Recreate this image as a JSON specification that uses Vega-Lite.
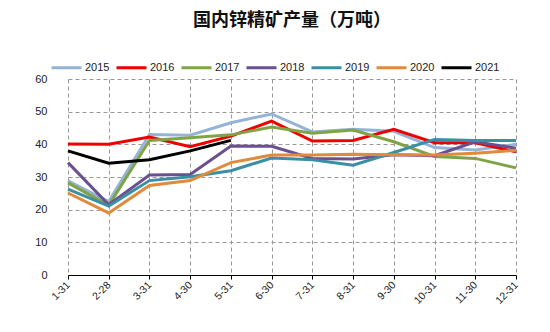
{
  "$schema": "https://vega.github.io/schema/vega-lite/v6.json",
  "autosize": "none",
  "width": 448,
  "height": 196,
  "padding": {"left": 68, "top": 79, "right": 34, "bottom": 57},
  "background": "white",
  "title": {
    "text": "国内锌精矿产量（万吨）",
    "font": "Noto Sans CJK SC",
    "fontSize": 18,
    "fontWeight": "bold",
    "color": "#111111",
    "anchor": "middle",
    "offset": 21
  },
  "config": {
    "view": {"stroke": null},
    "font": "Liberation Sans"
  },
  "datasets": {
    "d": [
      {"m":"1-31","y":"2015","v":28.8},{"m":"2-28","y":"2015","v":22.5},{"m":"3-31","y":"2015","v":43},{"m":"4-30","y":"2015","v":42.8},{"m":"5-31","y":"2015","v":46.6},{"m":"6-30","y":"2015","v":49.3},{"m":"7-31","y":"2015","v":43.8},{"m":"8-31","y":"2015","v":44.6},{"m":"9-30","y":"2015","v":44},{"m":"10-31","y":"2015","v":39},{"m":"11-30","y":"2015","v":38.3},{"m":"12-31","y":"2015","v":40},
      {"m":"1-31","y":"2016","v":40.1},{"m":"2-28","y":"2016","v":40},{"m":"3-31","y":"2016","v":42.2},{"m":"4-30","y":"2016","v":39.3},{"m":"5-31","y":"2016","v":42.5},{"m":"6-30","y":"2016","v":47.1},{"m":"7-31","y":"2016","v":41},{"m":"8-31","y":"2016","v":41.2},{"m":"9-30","y":"2016","v":44.6},{"m":"10-31","y":"2016","v":40.5},{"m":"11-30","y":"2016","v":40.5},{"m":"12-31","y":"2016","v":37.7},
      {"m":"1-31","y":"2017","v":28.2},{"m":"2-28","y":"2017","v":21.3},{"m":"3-31","y":"2017","v":41.2},{"m":"4-30","y":"2017","v":42},{"m":"5-31","y":"2017","v":42.9},{"m":"6-30","y":"2017","v":45.3},{"m":"7-31","y":"2017","v":43.4},{"m":"8-31","y":"2017","v":44.4},{"m":"9-30","y":"2017","v":40.8},{"m":"10-31","y":"2017","v":36.3},{"m":"11-30","y":"2017","v":35.7},{"m":"12-31","y":"2017","v":32.8},
      {"m":"1-31","y":"2018","v":34.4},{"m":"2-28","y":"2018","v":21.5},{"m":"3-31","y":"2018","v":30.6},{"m":"4-30","y":"2018","v":30.8},{"m":"5-31","y":"2018","v":39.5},{"m":"6-30","y":"2018","v":39.4},{"m":"7-31","y":"2018","v":35.7},{"m":"8-31","y":"2018","v":35.5},{"m":"9-30","y":"2018","v":36.8},{"m":"10-31","y":"2018","v":36.5},{"m":"11-30","y":"2018","v":40.8},{"m":"12-31","y":"2018","v":38.8},
      {"m":"1-31","y":"2019","v":26.3},{"m":"2-28","y":"2019","v":21.1},{"m":"3-31","y":"2019","v":28.9},{"m":"4-30","y":"2019","v":30.1},{"m":"5-31","y":"2019","v":31.9},{"m":"6-30","y":"2019","v":35.8},{"m":"7-31","y":"2019","v":35.3},{"m":"8-31","y":"2019","v":33.6},{"m":"9-30","y":"2019","v":37.5},{"m":"10-31","y":"2019","v":41.5},{"m":"11-30","y":"2019","v":41.2},{"m":"12-31","y":"2019","v":41.2},
      {"m":"1-31","y":"2020","v":25.1},{"m":"2-28","y":"2020","v":19},{"m":"3-31","y":"2020","v":27.4},{"m":"4-30","y":"2020","v":28.9},{"m":"5-31","y":"2020","v":34.4},{"m":"6-30","y":"2020","v":36.7},{"m":"7-31","y":"2020","v":36.7},{"m":"8-31","y":"2020","v":37},{"m":"9-30","y":"2020","v":36.8},{"m":"10-31","y":"2020","v":36.7},{"m":"11-30","y":"2020","v":37.3},{"m":"12-31","y":"2020","v":38.2},
      {"m":"1-31","y":"2021","v":38},{"m":"2-28","y":"2021","v":34.2},{"m":"3-31","y":"2021","v":35.3},{"m":"4-30","y":"2021","v":38},{"m":"5-31","y":"2021","v":41.2}
    ]
  },
  "data": {"name": "d"},
  "mark": {"type": "line", "strokeWidth": 3, "interpolate": "linear"},
  "encoding": {
    "x": {
      "field": "m", "type": "ordinal",
      "sort": ["1-31","2-28","3-31","4-30","5-31","6-30","7-31","8-31","9-30","10-31","11-30","12-31"],
      "scale": {"type": "point", "padding": 0},
      "axis": {
        "title": null,
        "labelAngle": -45,
        "labelAlign": "right",
        "labelBaseline": "middle",
        "labelFontSize": 10.5,
        "labelColor": "#222222",
        "labelPadding": 4,
        "domainColor": "#000000",
        "domainWidth": 1.2,
        "tickColor": "#000000",
        "tickSize": 4,
        "grid": true,
        "gridColor": "#999999",
        "gridDash": [4, 3],
        "gridWidth": 1
      }
    },
    "y": {
      "field": "v", "type": "quantitative",
      "scale": {"domain": [0, 60]},
      "axis": {
        "title": null,
        "values": [0,10,20,30,40,50,60],
        "domain": false,
        "ticks": false,
        "labelFontSize": 11,
        "labelColor": "#222222",
        "labelPadding": 21,
        "gridColor": "#999999",
        "gridDash": [4, 3],
        "gridWidth": 1
      }
    },
    "color": {
      "field": "y", "type": "nominal",
      "scale": {
        "domain": ["2015","2016","2017","2018","2019","2020","2021"],
        "range": ["#95B3D7","#EE0000","#7FA446","#6A5090","#3A8FA5","#E08A3C","#000000"]
      },
      "legend": {
        "title": null,
        "orient": "none",
        "direction": "horizontal",
        "legendX": -18,
        "legendY": -28,
        "symbolType": "stroke",
        "symbolSize": 900,
        "symbolStrokeWidth": 3,
        "labelFontSize": 11,
        "labelColor": "#222222",
        "columnPadding": 0,
        "labelOffset": 2
      }
    },
    "strokeWidth": {
      "condition": {"test": "datum.y === '2015'", "value": 2},
      "value": 3
    }
  }
}
